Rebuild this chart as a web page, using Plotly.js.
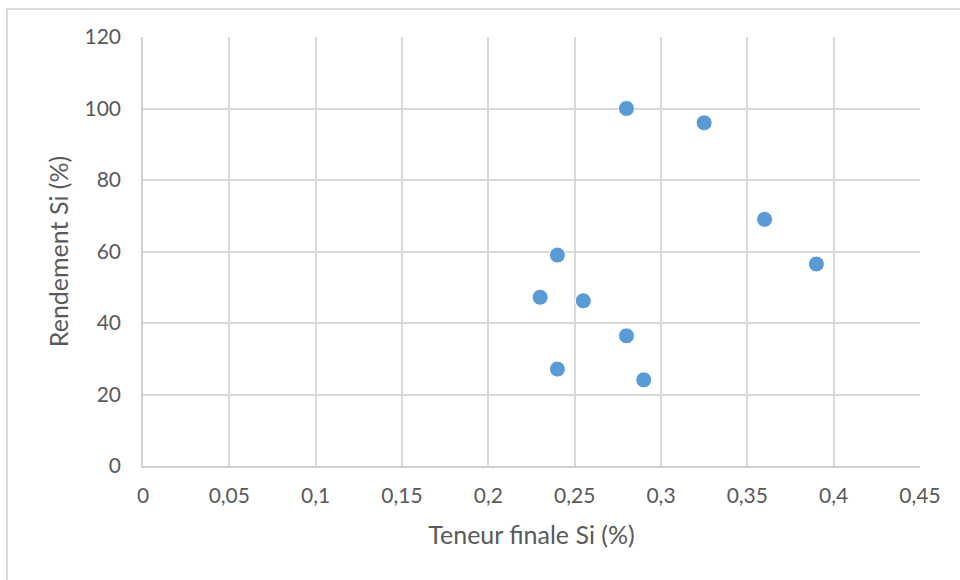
<!DOCTYPE html>
<html>
<head>
<meta charset="utf-8">
<script src="https://cdn.plot.ly/plotly-3.0.1.min.js"></script>
<style>
  html, body { margin: 0; padding: 0; background: #fff; }
  #wrap { position: relative; width: 960px; height: 580px; }
  #chart { width: 960px; height: 580px; }
  #frame { position: absolute; left: 6px; top: 8px; width: 960px; height: 580px;
           border-left: 2px solid #d9d9d9; border-top: 2px solid #d9d9d9; pointer-events: none; }
</style>
</head>
<body>
<div id="wrap">
  <div id="chart"></div>
  <div id="frame"></div>
</div>
<script>
const teneurSi = [0.28, 0.325, 0.36, 0.39, 0.24, 0.23, 0.255, 0.28, 0.24, 0.29];
const rendementSi = [100, 96, 69, 56.5, 59, 47.2, 46.2, 36.4, 27.1, 24.1];

const xTickVals = [0, 0.05, 0.1, 0.15, 0.2, 0.25, 0.3, 0.35, 0.4, 0.45];
const xTickText = ["0", "0,05", "0,1", "0,15", "0,2", "0,25", "0,3", "0,35", "0,4", "0,45"];
const yTickVals = [0, 20, 40, 60, 80, 100, 120];
const yTickText = ["0", "20", "40", "60", "80", "100", "120"];

const xTitle = "Teneur finale Si (%)";
const yTitle = "Rendement Si (%)";

const trace = {
  x: teneurSi,
  y: rendementSi,
  type: "scatter",
  mode: "markers",
  marker: { size: 16, color: "#5B9BD5", line: { color: "#ffffff", width: 1 } },
  hoverinfo: "x+y"
};

const fontFam = "Lato, 'Open Sans', sans-serif";
const layout = {
  width: 960, height: 580,
  margin: { l: 143, r: 40, t: 37, b: 114 },
  paper_bgcolor: "#ffffff",
  plot_bgcolor: "#ffffff",
  showlegend: false,
  font: { family: fontFam, color: "#595959", size: 21 },
  xaxis: {
    range: [0, 0.45],
    tickvals: xTickVals, ticktext: xTickText,
    showgrid: true, gridcolor: "#d9d9d9", gridwidth: 1.5,
    showline: true, linecolor: "#d0d0d0", linewidth: 1.5,
    zeroline: false, ticks: "", ticklabelstandoff: 10,
    tickfont: { size: 21, color: "#595959", family: fontFam },
    title: { text: xTitle, font: { size: 25, color: "#595959", family: fontFam }, standoff: 21 }
  },
  yaxis: {
    range: [0, 120],
    tickvals: yTickVals, ticktext: yTickText,
    showgrid: true, gridcolor: "#d9d9d9", gridwidth: 1.5,
    showline: true, linecolor: "#d0d0d0", linewidth: 1.5,
    zeroline: false, ticks: "", ticklabelstandoff: 16,
    tickfont: { size: 21, color: "#595959", family: fontFam },
    title: { text: yTitle, font: { size: 25, color: "#595959", family: fontFam }, standoff: 9 }
  }
};

Plotly.newPlot("chart", [trace], layout, { displayModeBar: false, staticPlot: false });
</script>
</body>
</html>
